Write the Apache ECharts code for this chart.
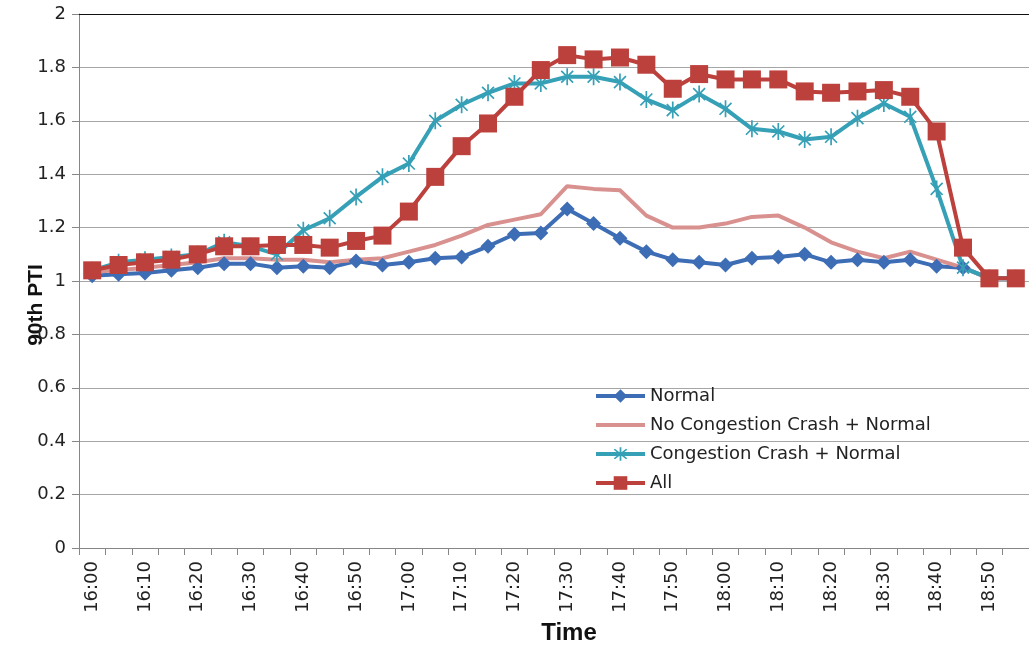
<!DOCTYPE html>
<html>
<head>
<meta charset="utf-8">
<script src="https://cdn.jsdelivr.net/npm/echarts@6/dist/echarts.min.js"></script>
<style>
html,body{margin:0;padding:0;background:#fff;}
#chart{width:1029px;height:648px;}
</style>
</head>
<body>
<div id="chart"></div>
<script>
var categories = ['16:00','16:05','16:10','16:15','16:20','16:25','16:30','16:35','16:40','16:45',
  '16:50','16:55','17:00','17:05','17:10','17:15','17:20','17:25','17:30','17:35',
  '17:40','17:45','17:50','17:55','18:00','18:05','18:10','18:15','18:20','18:25',
  '18:30','18:35','18:40','18:45','18:50','18:55'];

var normal = [1.02,1.025,1.03,1.04,1.05,1.065,1.065,1.05,1.055,
  1.05,1.075,1.06,1.07,1.085,1.09,1.13,1.175,1.18,
  1.27,1.215,1.16,1.11,1.08,1.07,1.06,1.085,1.09,
  1.10,1.07,1.08,1.07,1.08,1.055,1.05,1.01,1.01];

var noCongestion = [1.035,1.04,1.05,1.06,1.07,1.085,1.085,1.08,1.08,
  1.07,1.08,1.085,1.11,1.135,1.17,1.21,1.23,1.25,
  1.355,1.345,1.34,1.245,1.20,1.20,1.215,1.24,1.245,
  1.20,1.145,1.11,1.085,1.11,1.08,1.05,1.01,1.01];

var congestion = [1.04,1.07,1.08,1.09,1.10,1.145,1.13,1.10,1.19,
  1.235,1.315,1.39,1.44,1.60,1.66,1.705,1.74,1.74,
  1.765,1.765,1.745,1.68,1.64,1.70,1.645,1.57,1.56,
  1.53,1.54,1.61,1.665,1.615,1.345,1.05,1.01,1.01];

var allCases = [1.04,1.06,1.07,1.08,1.10,1.13,1.13,1.135,1.135,
  1.125,1.15,1.17,1.26,1.39,1.505,1.59,1.69,1.79,
  1.846,1.83,1.837,1.81,1.72,1.775,1.755,1.755,1.755,
  1.71,1.705,1.71,1.715,1.69,1.56,1.125,1.01,1.01];

var seriesNames = ['Normal','No Congestion Crash + Normal','Congestion Crash + Normal','All'];
var yMin = 0, yMax = 2, yStep = 0.2;

var asterisk = 'path://M-1,-10L1,-10L1,10L-1,10Z' +
  'M-6.3,-7.7L7.7,6.3L6.3,7.7L-7.7,-6.3Z' +
  'M6.3,-7.7L7.7,-6.3L-6.3,7.7L-7.7,6.3Z';

var tickFont = 'DejaVu Sans';
var chart = echarts.init(document.getElementById('chart'), null, {renderer:'canvas'});
chart.setOption({
  animation: false,
  backgroundColor: '#fff',
  grid: {left: 79, top: 14, width: 961, height: 534, containLabel: false},
  legend: {
    orient: 'vertical', left: 589, top: 382,
    itemWidth: 49, itemHeight: 17, itemGap: 11,
    lineStyle: {width: 4},
    textStyle: {fontFamily: tickFont, fontSize: 18, color: '#222'},
    data: [
      seriesNames[0],
      {name: seriesNames[1], icon: 'path://M0,0L49,0L49,4L0,4Z'},
      seriesNames[2],
      seriesNames[3]
    ]
  },
  xAxis: [{
    type: 'category', data: categories, boundaryGap: true,
    axisLine: {lineStyle: {color: '#868686', width: 1}},
    axisTick: {show: true, interval: 0, length: 7, lineStyle: {color: '#868686'}},
    axisLabel: {interval: 1, rotate: 90, margin: 13, fontFamily: tickFont, fontSize: 18, color: '#222'},
    splitLine: {show: false}
  }, {
    type: 'category', data: categories, position: 'top',
    axisLine: {show: true, lineStyle: {color: '#111', width: 1}},
    axisTick: {show: false}, axisLabel: {show: false}, splitLine: {show: false}
  }],
  yAxis: {
    type: 'value', min: yMin, max: yMax, interval: yStep,
    axisLine: {show: true, lineStyle: {color: '#868686'}},
    axisTick: {show: true, length: 7, lineStyle: {color: '#868686'}},
    axisLabel: {margin: 13, fontFamily: tickFont, fontSize: 18, color: '#222'},
    splitLine: {lineStyle: {color: '#a6a6a6', width: 1}}
  },
  graphic: [
    {type: 'text', x: 36, y: 305, rotation: Math.PI / 2,
     style: {text: '90th PTI', fontFamily: 'Liberation Sans', fontWeight: 'bold', fontSize: 21,
       fill: '#111', align: 'center', verticalAlign: 'middle'}},
    {type: 'text', x: 569, y: 633,
     style: {text: 'Time', fontFamily: 'Liberation Sans', fontWeight: 'bold', fontSize: 24,
       fill: '#111', align: 'center', verticalAlign: 'middle'}}
  ],
  series: [
    {name: seriesNames[0], type: 'line', data: normal, symbol: 'diamond', symbolSize: 15,
     showAllSymbol: true,
     lineStyle: {color: '#3D6DB5', width: 4}, itemStyle: {color: '#3D6DB5'}},
    {name: seriesNames[1], type: 'line', data: noCongestion, symbol: 'none',
     lineStyle: {color: '#D9918F', width: 4}, itemStyle: {color: '#D9918F'}},
    {name: seriesNames[2], type: 'line', data: congestion, symbol: asterisk, symbolSize: 17,
     symbolKeepAspect: true, showAllSymbol: true,
     lineStyle: {color: '#35A0B6', width: 4}, itemStyle: {color: '#35A0B6'}},
    {name: seriesNames[3], type: 'line', data: allCases, symbol: 'rect', symbolSize: 18,
     showAllSymbol: true,
     lineStyle: {color: '#BC403C', width: 4}, itemStyle: {color: '#BC403C'}}
  ]
});
</script>
</body>
</html>
